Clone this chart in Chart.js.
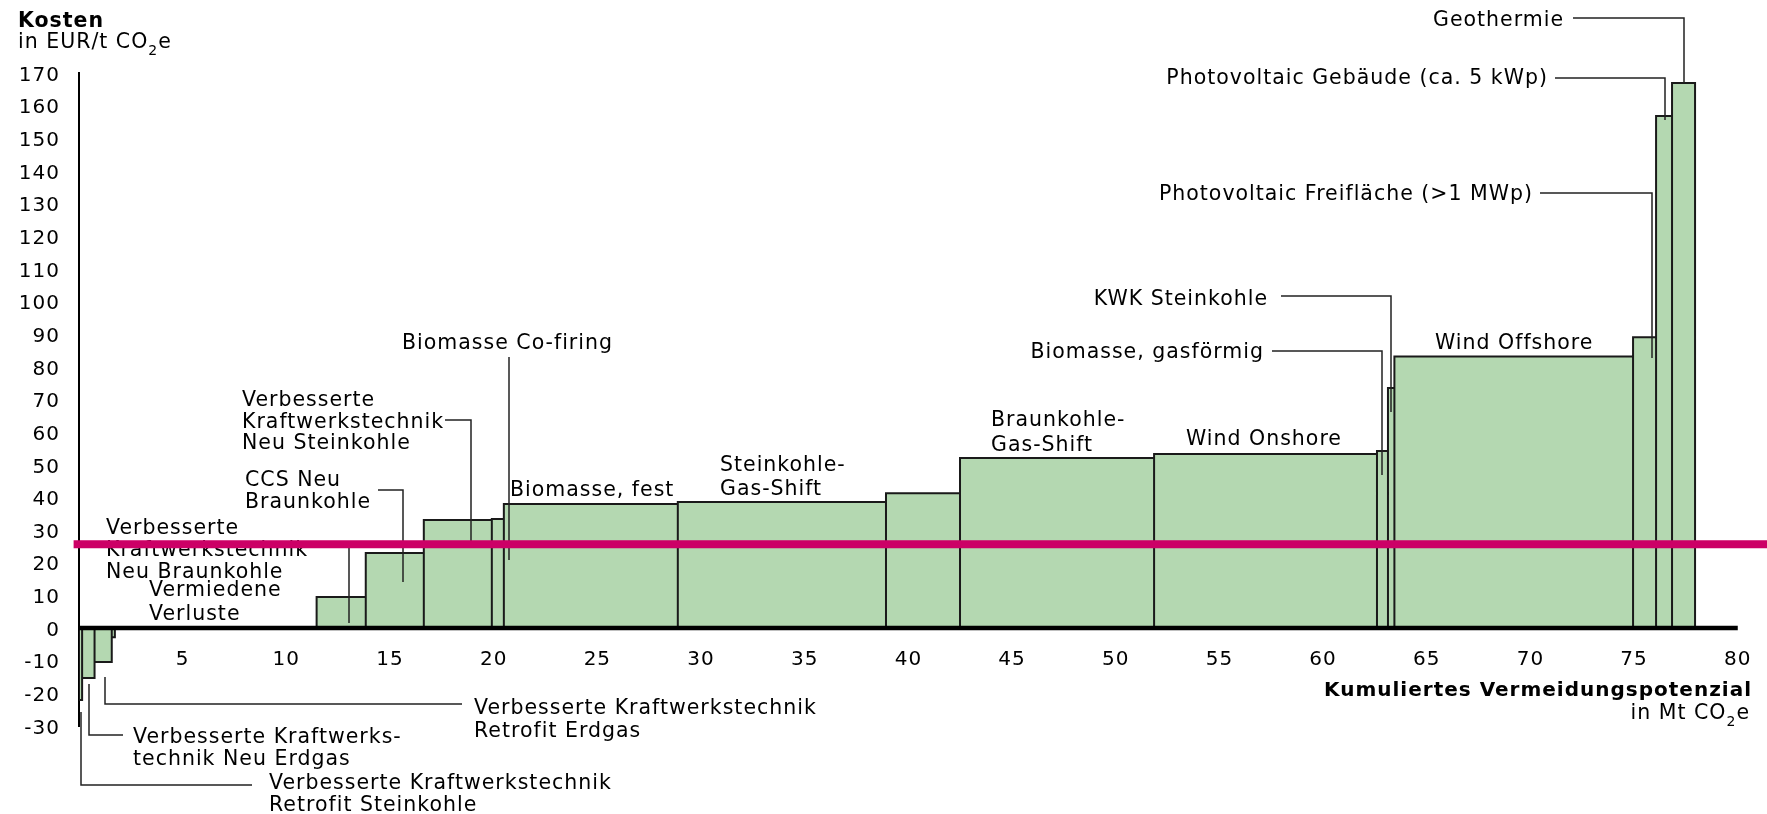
<!DOCTYPE html>
<html><head><meta charset="utf-8">
<script src="https://cdn.jsdelivr.net/npm/chart.js@4.4.1/dist/chart.umd.min.js"></script>
<style>html,body{margin:0;padding:0;background:#fff;overflow:hidden}</style>
</head><body>
<canvas id="c" width="1767" height="814"></canvas>
<script>
// ---- data ----
const measures = [
  "Verbesserte Kraftwerkstechnik Retrofit Steinkohle",
  "Verbesserte Kraftwerkstechnik Neu Erdgas",
  "Verbesserte Kraftwerkstechnik Retrofit Erdgas",
  "(ohne Bezeichnung)",
  "Vermiedene Verluste",
  "Verbesserte Kraftwerkstechnik Neu Braunkohle",
  "CCS Neu Braunkohle",
  "Verbesserte Kraftwerkstechnik Neu Steinkohle",
  "Biomasse Co-firing",
  "Biomasse, fest",
  "Steinkohle-Gas-Shift",
  "(ohne Bezeichnung)",
  "Braunkohle-Gas-Shift",
  "Wind Onshore",
  "Biomasse, gasförmig",
  "KWK Steinkohle",
  "Wind Offshore",
  "Photovoltaic Freifläche (>1 MWp)",
  "Photovoltaic Gebäude (ca. 5 kWp)",
  "Geothermie"
];
const potentials = [0.15, 0.6, 0.83, 0.15, 9.73, 2.37, 2.8, 3.28, 0.58, 8.39, 10.04, 3.57, 9.36, 10.75, 0.53, 0.31, 11.51, 1.11, 0.77, 1.11];
const costs = [-22, -15.3, -10.4, -2.8, 0, 9.5, 23.0, 33.1, 33.4, 38.0, 38.6, 41.3, 52.1, 53.3, 54.2, 73.5, 83.2, 89.1, 156.8, 166.9];
const co2Price = 25.7;
const xTickValues = [5, 10, 15, 20, 25, 30, 35, 40, 45, 50, 55, 60, 65, 70, 75, 80];
const yTickValues = [-30, -20, -10, 0, 10, 20, 30, 40, 50, 60, 70, 80, 90, 100, 110, 120, 130, 140, 150, 160, 170];
const xAxisEnd = 80;

// ---- build curve from data ----
const curve = [];
let cum = 0;
potentials.forEach((w, i) => {
  const c = costs[i];
  curve.push({x: cum, y: 0}, {x: cum, y: c}, {x: cum + w, y: c}, {x: cum + w, y: 0});
  cum += w;
});

// ---- annotation layout (pixels) ----
const FONT = "'DejaVu Sans', sans-serif";
const labels = [
  {t: ["Geothermie"], x: 1433, y: 26},
  {t: ["Photovoltaic Gebäude (ca. 5 kWp)"], x: 1548, y: 84, a: 'right'},
  {t: ["Photovoltaic Freifläche (>1 MWp)"], x: 1533, y: 200, a: 'right'},
  {t: ["KWK Steinkohle"], x: 1268, y: 305, a: 'right'},
  {t: ["Biomasse, gasförmig"], x: 1264, y: 358, a: 'right'},
  {t: ["Wind Offshore"], x: 1435, y: 349},
  {t: ["Wind Onshore"], x: 1186, y: 445},
  {t: ["Braunkohle-", "Gas-Shift"], x: 991, y: 426, lh: 25},
  {t: ["Steinkohle-", "Gas-Shift"], x: 720, y: 471, lh: 24},
  {t: ["Biomasse, fest"], x: 510, y: 496},
  {t: ["Biomasse Co-firing"], x: 402, y: 349},
  {t: ["Verbesserte", "Kraftwerkstechnik", "Neu Steinkohle"], x: 242, y: 406, lh: 21.5},
  {t: ["CCS Neu", "Braunkohle"], x: 245, y: 486, lh: 22},
  {t: ["Verbesserte", "Kraftwerkstechnik", "Neu Braunkohle"], x: 106, y: 534, lh: 22},
  {t: ["Vermiedene", "Verluste"], x: 149, y: 596, lh: 24},
  {t: ["Verbesserte Kraftwerkstechnik", "Retrofit Erdgas"], x: 474, y: 714, lh: 23},
  {t: ["Verbesserte Kraftwerks-", "technik Neu Erdgas"], x: 133, y: 743, lh: 21.5},
  {t: ["Verbesserte Kraftwerkstechnik", "Retrofit Steinkohle"], x: 269, y: 789, lh: 22}
];
const leaders = [
  [[1573, 18], [1684, 18], [1684, 83]],
  [[1555, 78], [1665, 78], [1665, 120]],
  [[1540, 193], [1652, 193], [1652, 358]],
  [[1281, 296], [1391, 296], [1391, 412]],
  [[1272, 351], [1382, 351], [1382, 475]],
  [[509, 357], [509, 560]],
  [[445, 420], [471, 420], [471, 545]],
  [[378, 490], [403, 490], [403, 582]],
  [[306, 544], [349, 544], [349, 623]],
  [[105, 677], [105, 704], [462, 704]],
  [[89, 684], [89, 735], [123, 735]],
  [[81, 712], [81, 785], [252, 785]]
];

function drawRich(ctx, segs, x, y, align) {
  let total = 0;
  segs.forEach(s => { ctx.font = s.font; total += ctx.measureText(s.t).width; });
  let cx = align === 'right' ? x - total : x;
  ctx.textAlign = 'left';
  segs.forEach(s => {
    ctx.font = s.font;
    ctx.fillText(s.t, cx, y + (s.dy || 0));
    cx += ctx.measureText(s.t).width;
  });
}

const annot = {
  id: 'annot',
  afterLayout(chart) {
    const ys = chart.scales.y;
    if (!ys._shifted) {
      const orig = ys.drawLabels;
      ys.drawLabels = function (ca) {
        this.ctx.save();
        this.ctx.translate(0, 2.5);
        orig.call(this, ca);
        this.ctx.restore();
      };
      ys._shifted = true;
    }
  },
  beforeDraw(chart) { chart.ctx.letterSpacing = '1px'; },
  beforeDatasetDraw(chart, args) {
    if (args.index !== 0) return;
    const ctx = chart.ctx;
    ctx.save();
    ctx.strokeStyle = '#222';
    ctx.lineWidth = 1.5;
    leaders.forEach(p => {
      ctx.beginPath();
      ctx.moveTo(p[0][0], p[0][1]);
      for (let i = 1; i < p.length; i++) ctx.lineTo(p[i][0], p[i][1]);
      ctx.stroke();
    });
    ctx.fillStyle = '#000';
    ctx.textBaseline = 'alphabetic';
    ctx.font = '20.5px ' + FONT;
    labels.forEach(l => {
      ctx.textAlign = l.a || 'left';
      l.t.forEach((line, k) => ctx.fillText(line, l.x, l.y + k * (l.lh || 22)));
    });
    const B = 'bold 20.5px ' + FONT, B2 = 'bold 20px ' + FONT, N = '20.5px ' + FONT, S = '14px ' + FONT;
    drawRich(ctx, [{t: 'Kosten', font: B}], 18, 27, 'left');
    drawRich(ctx, [{t: 'in EUR/t CO', font: N}, {t: '2', font: S, dy: 7}, {t: 'e', font: N}], 18, 48, 'left');
    drawRich(ctx, [{t: 'Kumuliertes Vermeidungspotenzial', font: B2}], 1752, 696, 'right');
    drawRich(ctx, [{t: 'in Mt CO', font: N}, {t: '2', font: S, dy: 7}, {t: 'e', font: N}], 1750, 719, 'right');
    ctx.restore();
  }
};

Chart.defaults.font.family = FONT;
Chart.defaults.font.size = 20;
Chart.defaults.color = '#000';

new Chart(document.getElementById('c'), {
  type: 'line',
  data: {
    datasets: [
      {label: 'CO2-Preis', data: [{x: -0.26, y: co2Price}, {x: 81.41, y: co2Price}], borderColor: '#cc0066', borderWidth: 8, pointRadius: 0, fill: false, order: 0, clip: false},
      {label: 'Achse', data: [{x: 0, y: 0}, {x: xAxisEnd, y: 0}], borderColor: '#000', borderWidth: 4.5, pointRadius: 0, fill: false, order: 1},
      {label: 'Vermeidungskosten', data: curve, borderColor: '#1a1a1a', borderWidth: 2, backgroundColor: '#b4d8b1', fill: 'origin', pointRadius: 0, tension: 0, order: 2, borderJoinStyle: 'miter'}
    ]
  },
  options: {
    responsive: false,
    animation: false,
    devicePixelRatio: 1,
    layout: {autoPadding: false, padding: {left: 0, right: 0, top: 73, bottom: 88}},
    plugins: {legend: {display: false}, tooltip: {enabled: false}},
    scales: {
      x: {
        type: 'linear', position: {y: 0}, min: 0, max: 81.41,
        afterBuildTicks: s => { s.ticks = xTickValues.map(v => ({value: v})); },
        grid: {display: false, drawTicks: true, tickLength: 20}, border: {display: false},
        ticks: {padding: 0, maxRotation: 0, autoSkip: false}
      },
      y: {
        type: 'linear', position: 'left', min: -30, max: 170,
        afterBuildTicks: s => { s.ticks = yTickValues.map(v => ({value: v})); },
        afterFit: s => { s.width = 79; },
        grid: {display: false, drawTicks: false}, border: {display: true, color: '#000', width: 2},
        ticks: {padding: 19}
      }
    }
  },
  plugins: [annot]
});
</script>
</body></html>
